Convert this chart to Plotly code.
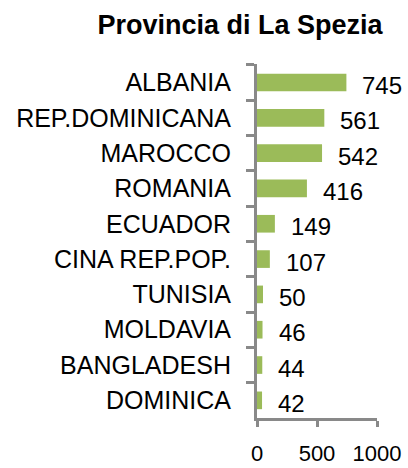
import plotly.graph_objects as go

categories = ["ALBANIA", "REP.DOMINICANA", "MAROCCO", "ROMANIA", "ECUADOR",
              "CINA REP.POP.", "TUNISIA", "MOLDAVIA", "BANGLADESH", "DOMINICA"]
values = [745, 561, 542, 416, 149, 107, 50, 46, 44, 42]
tick_vals = [0, 500, 1000]
tick_text = ["0", "500", "1000"]
title_text = "Provincia di La Spezia"

FONT = "Liberation Sans, Arial, sans-serif"
AXIS_GRAY = "#898989"

fig = go.Figure(go.Bar(
    x=values, y=categories, orientation="h",
    marker=dict(color="#9BBB59", line=dict(width=0)),
    width=0.5, hoverinfo="x+y", cliponaxis=False,
))

for c, v in zip(categories, values):
    fig.add_annotation(x=v, y=c, text=str(v), showarrow=False,
                       xanchor="left", yanchor="middle", xshift=14, yshift=-3,
                       font=dict(family=FONT, size=24, color="black"))

fig.update_layout(
    width=408, height=468,
    margin=dict(l=257, r=31, t=64, b=50, autoexpand=False),
    paper_bgcolor="white", plot_bgcolor="white",
    showlegend=False,
    title=dict(text="<b>" + title_text + "</b>", x=240/408, xref="container", xanchor="center",
               y=1 - 25/468, yref="container", yanchor="middle",
               font=dict(family=FONT, size=27, color="black")),
)
fig.update_xaxes(range=[0, 1000], tickvals=tick_vals, ticktext=tick_text, automargin=False,
                 showgrid=False, zeroline=False, showline=True, linecolor=AXIS_GRAY,
                 linewidth=3, ticks="outside", ticklen=6, tickwidth=3, tickcolor=AXIS_GRAY,
                 ticklabelstandoff=8,
                 tickfont=dict(family=FONT, size=22, color="black"))
fig.update_yaxes(categoryorder="array", categoryarray=categories, autorange="reversed",
                 automargin=False,
                 showgrid=False, zeroline=False, showline=True, linecolor=AXIS_GRAY,
                 linewidth=3, ticks="outside", tickson="boundaries", ticklen=8, tickwidth=3,
                 tickcolor=AXIS_GRAY, ticklabelstandoff=18,
                 tickfont=dict(family=FONT, size=25, color="black"))

fig.write_html("out.html", config={"displayModeBar": False},
               post_script="document.body.style.margin='0';document.body.style.overflow='hidden';")
